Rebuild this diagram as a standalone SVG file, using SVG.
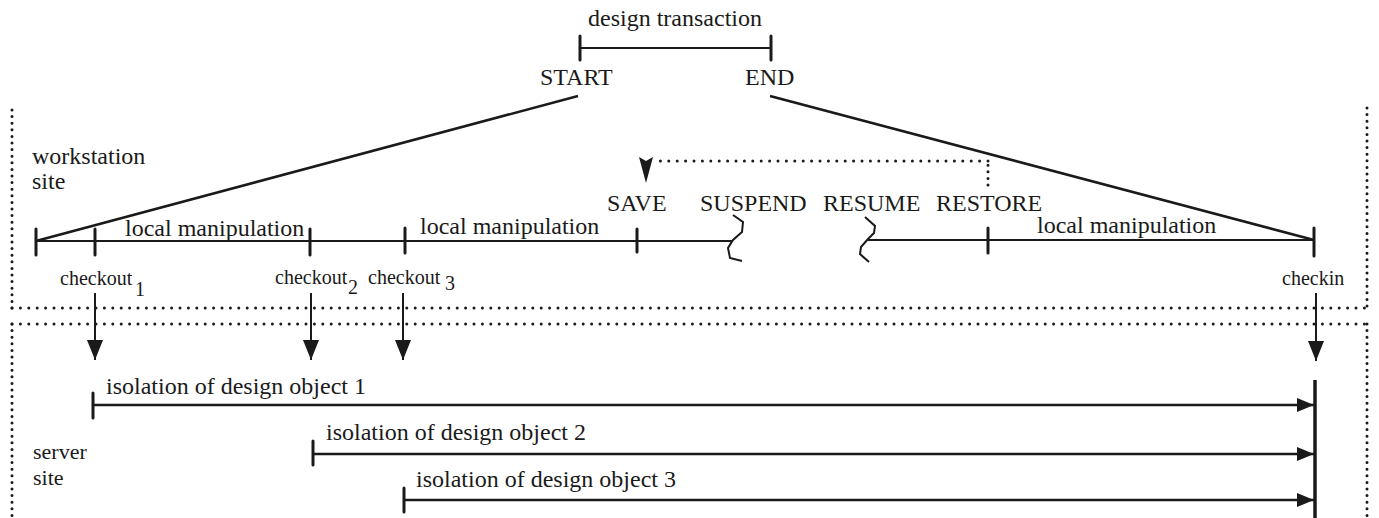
<svg xmlns="http://www.w3.org/2000/svg" width="1379" height="518" viewBox="0 0 1379 518" font-family="'Liberation Serif', 'Times New Roman', 'DejaVu Serif', serif">
  <style>
    text { font-family: "Liberation Serif", "Times New Roman", "DejaVu Serif", serif; fill: #1a1a1a; }
    .lbl { font-size: 24px; }
    .sm { font-size: 20px; }
    .site { font-size: 22px; }
    .ln { stroke: #1a1a1a; stroke-width: 2; fill: none; }
    .thick { stroke: #1a1a1a; stroke-width: 2.6; fill: none; }
    .tick { stroke: #1a1a1a; stroke-width: 3; stroke-linecap: round; }
    .doth { stroke: #1a1a1a; stroke-width: 3; stroke-linecap: round; stroke-dasharray: 0 8.4; fill: none; }
    .dotv { stroke: #1a1a1a; stroke-width: 3; stroke-linecap: round; stroke-dasharray: 0 6.6; fill: none; }
    .head { fill: #1a1a1a; }
  </style>
  <defs>
    <marker id="down" markerUnits="userSpaceOnUse" viewBox="0 0 20 16" refX="20" refY="8" markerWidth="20" markerHeight="16" orient="auto">
      <path d="M0,0 L20,8 L0,16 Z" class="head"/>
    </marker>
    <marker id="right" markerUnits="userSpaceOnUse" viewBox="0 0 17 14" refX="17" refY="7" markerWidth="17" markerHeight="14" orient="auto">
      <path d="M0,0 L17,7 L0,14 Z" class="head"/>
    </marker>
  </defs>
  <rect width="1379" height="518" fill="#ffffff"/>

  <!-- design transaction bracket -->
  <g id="design-transaction">
    <text class="lbl" x="675" y="26" text-anchor="middle">design transaction</text>
    <line class="ln" x1="580" y1="48" x2="771" y2="48"/>
    <line class="tick" x1="580" y1="36" x2="580" y2="60"/>
    <line class="tick" x1="771" y1="36" x2="771" y2="60"/>
    <text class="lbl" x="540" y="85">START</text>
    <text class="lbl" x="745" y="85">END</text>
  </g>

  <!-- workstation site region -->
  <g id="workstation-site">
    <line class="dotv" x1="12" y1="110" x2="12" y2="308"/>
    <line class="doth" x1="12" y1="308" x2="1367" y2="308"/>
    <line class="dotv" x1="1367" y1="108" x2="1367" y2="308"/>
    <text class="lbl" x="32" y="164">workstation</text>
    <text class="lbl" x="32" y="189">site</text>
  </g>

  <!-- server site region -->
  <g id="server-site">
    <line class="doth" x1="12" y1="324" x2="1367" y2="324"/>
    <line class="dotv" x1="12" y1="324" x2="12" y2="518"/>
    <line class="dotv" x1="1367" y1="324" x2="1367" y2="518"/>
    <text class="site" x="33" y="459">server</text>
    <text class="site" x="33" y="485">site</text>
  </g>

  <!-- workstation timeline -->
  <g id="timeline">
    <line class="ln" x1="36" y1="241" x2="733" y2="241"/>
    <path class="ln" stroke-width="2.4" d="M733,215 L743,222 L742,232 L733,240 L728,248 L730,258 L742,261"/>
    <path class="ln" stroke-width="2.4" d="M865,217 L875,226 L874,233 L868,239 L861,247 L860,254 L869,262"/>
    <line class="ln" x1="868" y1="240" x2="1314" y2="240"/>
    <line class="tick" x1="36" y1="229" x2="36" y2="255"/>
    <line class="tick" x1="95" y1="229" x2="95" y2="255"/>
    <line class="tick" x1="310" y1="229" x2="310" y2="255"/>
    <line class="tick" x1="405" y1="228" x2="405" y2="253"/>
    <line class="tick" x1="637" y1="229" x2="637" y2="252"/>
    <line class="tick" x1="988" y1="228" x2="988" y2="253"/>
    <line class="tick" x1="1314" y1="228" x2="1314" y2="256"/>
    <text class="lbl" x="125" y="236">local manipulation</text>
    <text class="lbl" x="420" y="234">local manipulation</text>
    <text class="lbl" x="1037" y="233">local manipulation</text>
    <text class="lbl" x="607" y="211">SAVE</text>
    <text class="lbl" x="700" y="211">SUSPEND</text>
    <text class="lbl" x="823" y="211">RESUME</text>
    <text class="lbl" x="936" y="211">RESTORE</text>
  </g>

  <!-- checkout / checkin labels -->
  <g id="checkouts">
    <text class="sm" x="60" y="285">checkout</text>
    <text class="sm" x="135" y="296">1</text>
    <text class="sm" x="275" y="284">checkout</text>
    <text class="sm" x="348" y="294">2</text>
    <text class="sm" x="368" y="284">checkout</text>
    <text class="sm" x="445" y="290">3</text>
    <text class="sm" x="1282" y="285">checkin</text>
  </g>

  <!-- isolation intervals on the server -->
  <g id="isolation">
    <line x1="1315" y1="380" x2="1315" y2="518" stroke="#1a1a1a" stroke-width="3.5"/>
    <text class="lbl" x="106" y="394">isolation of design object 1</text>
    <line class="tick" x1="93" y1="393" x2="93" y2="418"/>
    <text class="lbl" x="326" y="440">isolation of design object 2</text>
    <line class="tick" x1="313" y1="441" x2="313" y2="465"/>
    <text class="lbl" x="416" y="487">isolation of design object 3</text>
    <line class="tick" x1="404" y1="488" x2="404" y2="512"/>
  </g>

  <!-- connectors -->
  <g id="connectors">
    <line class="thick" x1="578" y1="96" x2="36" y2="241"/>
    <line class="thick" x1="770" y1="96" x2="1314" y2="240"/>
    <path class="dotv" d="M988,185 V161"/>
    <path class="doth" d="M988,161 H656"/>
    <path class="head" d="M639,157 L646,161 L653,157 L646,183 Z"/>
    <line class="ln" x1="95" y1="293" x2="95" y2="360" marker-end="url(#down)"/>
    <line class="ln" x1="311" y1="293" x2="311" y2="360" marker-end="url(#down)"/>
    <line class="ln" x1="403" y1="293" x2="403" y2="360" marker-end="url(#down)"/>
    <line class="ln" x1="1316" y1="293" x2="1316" y2="361" marker-end="url(#down)"/>
    <line class="thick" x1="93" y1="405" x2="1314" y2="405" marker-end="url(#right)"/>
    <line class="thick" x1="313" y1="454" x2="1314" y2="454" marker-end="url(#right)"/>
    <line class="thick" x1="404" y1="500" x2="1314" y2="500" marker-end="url(#right)"/>
  </g>
</svg>
